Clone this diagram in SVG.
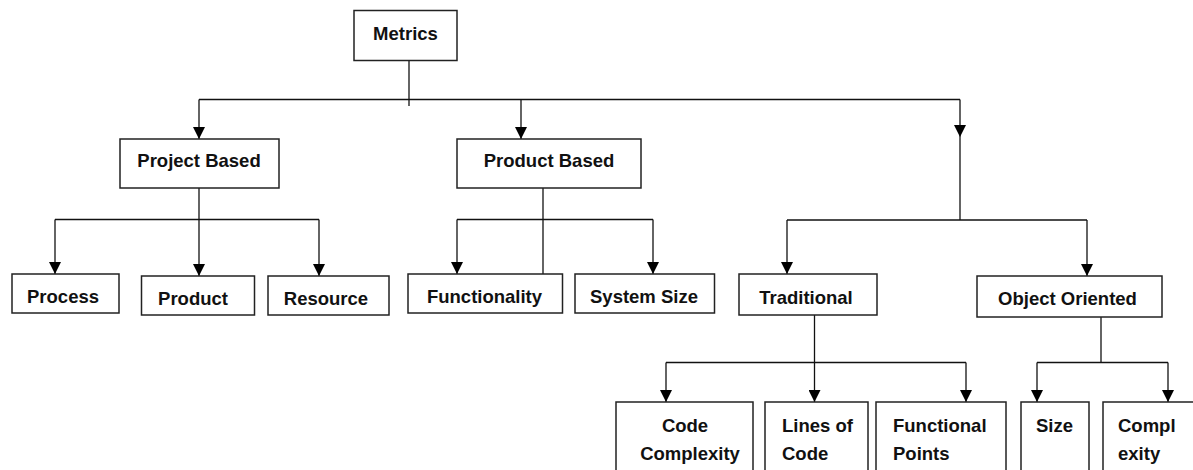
<svg xmlns="http://www.w3.org/2000/svg" width="1193" height="470" viewBox="0 0 1193 470">
<style>
.box{fill:#fff;stroke:#222;stroke-width:1.5}
.lbl{font-family:"Liberation Sans",Arial,sans-serif;font-weight:bold;font-size:18.5px;fill:#111}
.c{text-anchor:middle}
.ln{fill:none;stroke:#111;stroke-width:1.3}
</style>
<defs>
<marker id="ah" markerUnits="userSpaceOnUse" markerWidth="12" markerHeight="12" refX="12" refY="6" orient="auto">
<path d="M0,0 L12,6 L0,12 z" fill="#000"/>
</marker>
</defs>
<rect width="1193" height="470" fill="#fff"/>
<g id="connectors">
<path class="ln" d="M409,60 V106"/>
<path class="ln" d="M199,99.5 H960"/>
<path class="ln" d="M199,99.5 V139" marker-end="url(#ah)"/>
<path class="ln" d="M521,99.5 V139" marker-end="url(#ah)"/>
<path class="ln" d="M960,99.5 V137" marker-end="url(#ah)"/>
<path class="ln" d="M960,137 V220"/>
<path class="ln" d="M787,220 H1087"/>
<path class="ln" d="M787,220 V274" marker-end="url(#ah)"/>
<path class="ln" d="M1087,220 V276" marker-end="url(#ah)"/>
<path class="ln" d="M55,219.5 H319"/>
<path class="ln" d="M199,188 V276" marker-end="url(#ah)"/>
<path class="ln" d="M55,219.5 V274" marker-end="url(#ah)"/>
<path class="ln" d="M319,219.5 V276" marker-end="url(#ah)"/>
<path class="ln" d="M543,188 V274"/>
<path class="ln" d="M457,219.5 H653"/>
<path class="ln" d="M457,219.5 V274" marker-end="url(#ah)"/>
<path class="ln" d="M653,219.5 V274" marker-end="url(#ah)"/>
<path class="ln" d="M814.5,315 V402" marker-end="url(#ah)"/>
<path class="ln" d="M666,362.5 H966"/>
<path class="ln" d="M666,362.5 V402" marker-end="url(#ah)"/>
<path class="ln" d="M966,362.5 V402" marker-end="url(#ah)"/>
<path class="ln" d="M1101,317 V362.5"/>
<path class="ln" d="M1037,362.5 H1168"/>
<path class="ln" d="M1037,362.5 V402" marker-end="url(#ah)"/>
<path class="ln" d="M1168,362.5 V402" marker-end="url(#ah)"/>
</g>
<g id="metrics"><rect class="box" x="354" y="10.5" width="103" height="50"/><text class="lbl c" x="405.5" y="39.5">Metrics</text></g>
<g id="project-based"><rect class="box" x="120" y="139" width="159" height="49"/><text class="lbl c" x="199" y="167">Project Based</text></g>
<g id="product-based"><rect class="box" x="457" y="139" width="184" height="49"/><text class="lbl c" x="549" y="167">Product Based</text></g>
<g id="process"><rect class="box" x="12" y="274" width="107" height="39"/><text class="lbl c" x="63" y="303">Process</text></g>
<g id="product"><rect class="box" x="141.5" y="276" width="113" height="39"/><text class="lbl c" x="193" y="304.5">Product</text></g>
<g id="resource"><rect class="box" x="268" y="276" width="121" height="39"/><text class="lbl c" x="326" y="304.5">Resource</text></g>
<g id="functionality"><rect class="box" x="408" y="274" width="154.5" height="39"/><text class="lbl c" x="484.5" y="303">Functionality</text></g>
<g id="system-size"><rect class="box" x="575" y="274" width="139.5" height="39"/><text class="lbl c" x="644" y="303">System Size</text></g>
<g id="traditional"><rect class="box" x="739" y="274" width="138" height="41"/><text class="lbl c" x="806" y="304">Traditional</text></g>
<g id="object-oriented"><rect class="box" x="977" y="276" width="185" height="41"/><text class="lbl c" x="1067.5" y="305">Object Oriented</text></g>
<g id="code-complexity"><rect class="box" x="616" y="402" width="137" height="90"/><text class="lbl c" x="685" y="431.5">Code</text><text class="lbl c" x="690" y="460">Complexity</text></g>
<g id="lines-of-code"><rect class="box" x="765" y="402" width="103" height="90"/><text class="lbl" x="782" y="431.5">Lines of</text><text class="lbl" x="782" y="460">Code</text></g>
<g id="functional-points"><rect class="box" x="876" y="402" width="130" height="90"/><text class="lbl" x="893" y="431.5">Functional</text><text class="lbl" x="893" y="460">Points</text></g>
<g id="size"><rect class="box" x="1021" y="402" width="68" height="90"/><text class="lbl c" x="1054.5" y="431.5">Size</text></g>
<g id="complexity"><rect class="box" x="1103" y="402" width="110" height="90"/><text class="lbl" x="1118" y="431.5">Compl</text><text class="lbl" x="1118" y="460">exity</text></g>
</svg>
